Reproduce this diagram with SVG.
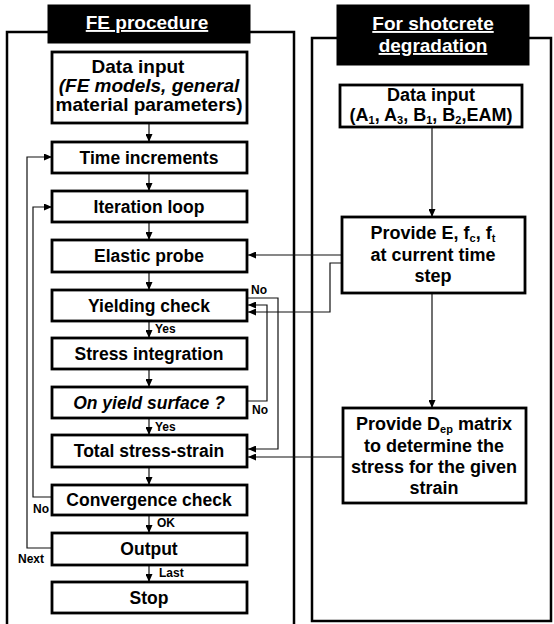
<svg xmlns="http://www.w3.org/2000/svg" width="554" height="624" viewBox="0 0 554 624">
<style>
.panel{fill:none;stroke:#000;stroke-width:2.5}
.box{fill:#fff;stroke:#000;stroke-width:2.8}
.title{fill:#000;stroke:#000;stroke-width:1}
.t{font-family:"Liberation Sans",Arial,sans-serif;font-weight:bold;font-size:17.5px;text-anchor:middle;fill:#000}
.r{font-size:18px}
.tt{font-family:"Liberation Sans",Arial,sans-serif;font-weight:bold;font-size:19px;text-anchor:middle;fill:#fff;text-decoration:underline}
.lbl{font-family:"Liberation Sans",Arial,sans-serif;font-weight:bold;font-size:12px;fill:#000}
.c{fill:none;stroke:#111;stroke-width:1.2}
</style>
<defs>
<marker id="ah" markerUnits="userSpaceOnUse" markerWidth="8" markerHeight="7" refX="8" refY="3.5" orient="auto">
<path d="M0,0 L8,3.5 L0,7 z" fill="#000"/>
</marker>
</defs>
<g id="panels">
<path class="panel" d="M7,624 V32 H294 V624"/>
<rect class="panel" x="312" y="38" width="239" height="583"/>
</g>
<g id="title-fe">
<rect class="title" x="48" y="5" width="202" height="38"/>
<text class="tt" x="147" y="29">FE procedure</text>
</g>
<g id="title-shot">
<rect class="title" x="337" y="5" width="192" height="60"/>
<text class="tt" x="433" y="30">For shotcrete</text>
<text class="tt" x="433" y="52">degradation</text>
</g>
<g id="connectors">
<line class="c" x1="149" y1="123" x2="149" y2="142" marker-end="url(#ah)"/>
<line class="c" x1="149" y1="173" x2="149" y2="191" marker-end="url(#ah)"/>
<line class="c" x1="149" y1="222" x2="149" y2="240" marker-end="url(#ah)"/>
<line class="c" x1="149" y1="272" x2="149" y2="290" marker-end="url(#ah)"/>
<line class="c" x1="149" y1="321" x2="149" y2="338" marker-end="url(#ah)"/>
<line class="c" x1="149" y1="369" x2="149" y2="387" marker-end="url(#ah)"/>
<line class="c" x1="149" y1="418" x2="149" y2="435" marker-end="url(#ah)"/>
<line class="c" x1="149" y1="467" x2="149" y2="485" marker-end="url(#ah)"/>
<line class="c" x1="149" y1="515" x2="149" y2="533" marker-end="url(#ah)"/>
<line class="c" x1="149" y1="565" x2="149" y2="582" marker-end="url(#ah)"/>
<path class="c" d="M52,497 H33 V207 H52" marker-end="url(#ah)"/>
<path class="c" d="M52,548 H27 V157 H52" marker-end="url(#ah)"/>
<path class="c" d="M247,298 H278 V449 H248" marker-end="url(#ah)"/>
<path class="c" d="M247,401 H267 V305 H248" marker-end="url(#ah)"/>
<line class="c" x1="432" y1="127" x2="432" y2="217" marker-end="url(#ah)"/>
<line class="c" x1="432" y1="293" x2="432" y2="408" marker-end="url(#ah)"/>
<line class="c" x1="342" y1="255" x2="248" y2="255" marker-end="url(#ah)"/>
<path class="c" d="M342,263 H330 V312 H248" marker-end="url(#ah)"/>
<line class="c" x1="343" y1="457" x2="248" y2="457" marker-end="url(#ah)"/>
<text class="lbl" x="155" y="333">Yes</text>
<text class="lbl" x="155" y="431">Yes</text>
<text class="lbl" x="157" y="527">OK</text>
<text class="lbl" x="159" y="577">Last</text>
<text class="lbl" x="33" y="513">No</text>
<text class="lbl" x="18" y="563">Next</text>
<text class="lbl" x="251" y="294">No</text>
<text class="lbl" x="252" y="414">No</text>
</g>
<g id="n-data">
<rect class="box" x="52" y="52" width="195" height="71"/>
<text class="t" x="138" y="73" style="font-size:19px">Data input</text>
<text class="t" x="149" y="92" style="font-size:19px;font-style:italic">(FE models, general</text>
<text class="t" x="149" y="111" style="font-size:19px">material parameters)</text>
</g>
<g id="n-time"><rect class="box" x="52" y="142" width="195" height="31"/><text class="t" x="149" y="163.5">Time increments</text></g>
<g id="n-iter"><rect class="box" x="52" y="191" width="195" height="31"/><text class="t" x="149" y="212.5">Iteration loop</text></g>
<g id="n-elastic"><rect class="box" x="52" y="240" width="195" height="32"/><text class="t" x="149" y="262">Elastic probe</text></g>
<g id="n-yield"><rect class="box" x="52" y="290" width="195" height="31"/><text class="t" x="149" y="311.5">Yielding check</text></g>
<g id="n-stress"><rect class="box" x="52" y="338" width="195" height="31"/><text class="t" x="149" y="359.5">Stress integration</text></g>
<g id="n-onyield"><rect class="box" x="52" y="387" width="195" height="31"/><text class="t" x="149" y="408.5" style="font-style:italic">On yield surface ?</text></g>
<g id="n-total"><rect class="box" x="52" y="435" width="195" height="32"/><text class="t" x="149" y="457">Total stress-strain</text></g>
<g id="n-conv"><rect class="box" x="52" y="485" width="195" height="30"/><text class="t" x="149" y="506">Convergence check</text></g>
<g id="n-output"><rect class="box" x="52" y="533" width="195" height="32"/><text class="t" x="149" y="555">Output</text></g>
<g id="n-stop"><rect class="box" x="52" y="582" width="195" height="31"/><text class="t" x="149" y="603.5">Stop</text></g>
<g id="n-sdata">
<rect class="box" x="340" y="85" width="182" height="42"/>
<text class="t r" x="431" y="101">Data input</text>
<text class="t r" x="431" y="121">(A<tspan font-size="11" dy="3">1</tspan><tspan dy="-3">, A</tspan><tspan font-size="11" dy="3">3</tspan><tspan dy="-3">, B</tspan><tspan font-size="11" dy="3">1</tspan><tspan dy="-3">, B</tspan><tspan font-size="11" dy="3">2</tspan><tspan dy="-3">,EAM)</tspan></text>
</g>
<g id="n-provE">
<rect class="box" x="342" y="217" width="183" height="76"/>
<text class="t r" x="433" y="239">Provide E, f<tspan font-size="11" dy="3">c</tspan><tspan dy="-3">, f</tspan><tspan font-size="11" dy="3">t</tspan></text>
<text class="t r" x="433" y="261">at current time</text>
<text class="t r" x="433" y="282">step</text>
</g>
<g id="n-provD">
<rect class="box" x="343" y="408" width="183" height="95"/>
<text class="t r" x="434" y="430">Provide D<tspan font-size="11" dy="3">ep</tspan><tspan dy="-3"> matrix</tspan></text>
<text class="t r" x="434" y="452">to determine the</text>
<text class="t r" x="434" y="473">stress for the given</text>
<text class="t r" x="434" y="494">strain</text>
</g>
</svg>
